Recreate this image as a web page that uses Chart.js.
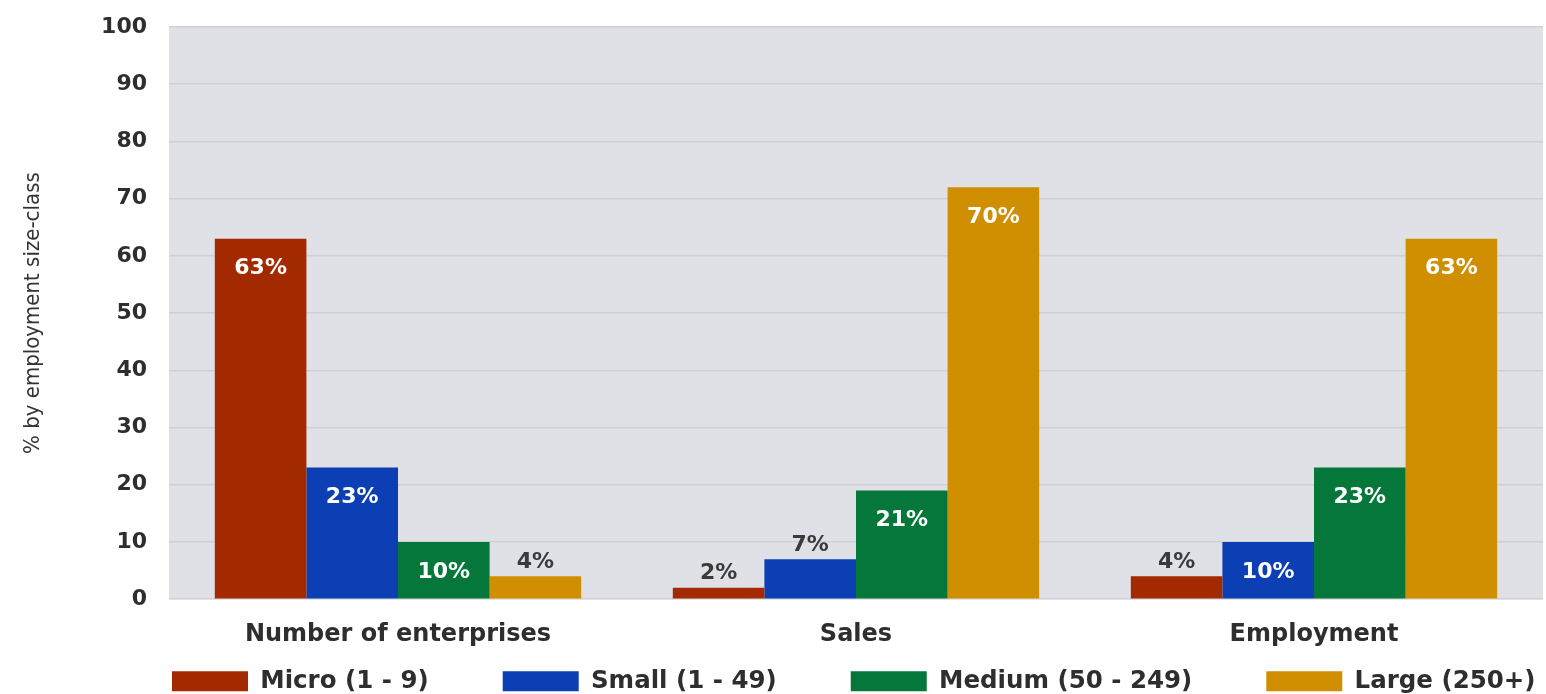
<!DOCTYPE html>
<html>
<head>
<meta charset="utf-8">
<script src="https://cdn.jsdelivr.net/npm/chart.js@4.4.1/dist/chart.umd.min.js"></script>
<style>
html,body{margin:0;padding:0;background:#ffffff;}
#wrap{width:1546px;height:694px;position:relative;}
</style>
</head>
<body>
<div id="wrap"><canvas id="c"></canvas></div>
<script>
const categories = ["Number of enterprises", "Sales", "Employment"];
const seriesNames = ["Micro (1 - 9)", "Small (1 - 49)", "Medium (50 - 249)", "Large (250+)"];
const microValues = [63, 2, 4];
const smallValues = [23, 7, 10];
const mediumValues = [10, 19, 23];
const largeValues = [4, 72, 63];
const microLabels = ["63%", "2%", "4%"];
const smallLabels = ["23%", "7%", "10%"];
const mediumLabels = ["10%", "21%", "23%"];
const largeLabels = ["4%", "70%", "63%"];
const yTicks = [0, 10, 20, 30, 40, 50, 60, 70, 80, 90, 100];
const yTitle = "% by employment size-class";

const colors = ["#a32a00", "#0b3fb3", "#06773a", "#cf8f00"];
const valueSets = [microValues, smallValues, mediumValues, largeValues];
const labelSets = [microLabels, smallLabels, mediumLabels, largeLabels];

const LEG_PAD = 74;

const plotBg = {
  id: 'plotBg',
  beforeDraw(chart) {
    const {ctx, chartArea: a} = chart;
    ctx.save();
    ctx.fillStyle = '#e0e1e6';
    ctx.fillRect(a.left, a.top, a.right - a.left, a.bottom - a.top);
    ctx.restore();
  }
};

const legendPlace = {
  id: 'legendPlace',
  afterInit(chart) {
    const lg = chart.legend;
    if (lg && !lg._wrapped) {
      const orig = lg.fit.bind(lg);
      lg.fit = function () { orig(); this.height = 24; };
      lg._wrapped = true;
    }
  },
  afterLayout(chart) {
    const lg = chart.legend;
    if (!lg) return;
    lg.left = 172 - LEG_PAD;
    lg.right = 4000;
    lg.top = 669 - LEG_PAD;
    lg.bottom = lg.top + 200;
  }
};

const barLabels = {
  id: 'barLabels',
  afterDatasetsDraw(chart) {
    const {ctx} = chart;
    ctx.save();
    ctx.font = 'bold 22px "DejaVu Sans", sans-serif';
    ctx.textAlign = 'center';
    ctx.textBaseline = 'middle';
    chart.data.datasets.forEach((ds, di) => {
      const meta = chart.getDatasetMeta(di);
      meta.data.forEach((el, i) => {
        const v = ds.data[i];
        const txt = labelSets[di][i];
        if (v >= 10) {
          ctx.fillStyle = '#ffffff';
          ctx.fillText(txt, el.x, el.y + 30);
        } else {
          ctx.fillStyle = '#3a3a3a';
          ctx.fillText(txt, el.x, el.y - 14);
        }
      });
    });
    ctx.restore();
  }
};

new Chart(document.getElementById('c'), {
  type: 'bar',
  data: {
    labels: categories,
    datasets: seriesNames.map((name, i) => ({
      label: name,
      data: valueSets[i],
      backgroundColor: colors[i],
      borderWidth: 0,
      categoryPercentage: 0.8,
      barPercentage: 1.0
    }))
  },
  options: {
    responsive: true,
    maintainAspectRatio: false,
    animation: false,
    layout: { padding: { left: 0, right: 3, top: 27, bottom: 0 } },
    plugins: {
      legend: {
        position: 'bottom',
        fullSize: true,
        align: 'start',
        labels: {
          boxWidth: 76,
          boxHeight: 20,
          padding: LEG_PAD,
          color: '#2e2e2e',
          font: { family: '"DejaVu Sans", sans-serif', size: 24.5, weight: 'bold' }
        }
      },
      tooltip: { enabled: false }
    },
    scales: {
      x: {
        grid: { display: false, drawTicks: false },
        border: { display: false },
        ticks: {
          padding: 21,
          color: '#2e2e2e',
          font: { family: '"DejaVu Sans", sans-serif', size: 24, weight: 'bold' }
        }
      },
      y: {
        min: 0,
        max: 100,
        afterBuildTicks(scale) { scale.ticks = yTicks.map(v => ({ value: v })); },
        afterFit(scale) { scale.width = 169; },
        grid: { color: '#cfd0d6', lineWidth: 1.5, drawTicks: true, tickLength: 19, tickColor: 'rgba(0,0,0,0)' },
        border: { display: false },
        ticks: {
          padding: 3,
          color: '#2e2e2e',
          font: { family: '"DejaVu Sans", sans-serif', size: 22, weight: 'bold' }
        },
        title: {
          display: true,
          text: yTitle,
          color: '#333333',
          padding: { top: 20, bottom: 0 },
          font: { family: '"DejaVu Sans Condensed", "DejaVu Sans", sans-serif', size: 22, weight: 'normal' }
        }
      }
    }
  },
  plugins: [plotBg, legendPlace, barLabels]
});
</script>
</body>
</html>
